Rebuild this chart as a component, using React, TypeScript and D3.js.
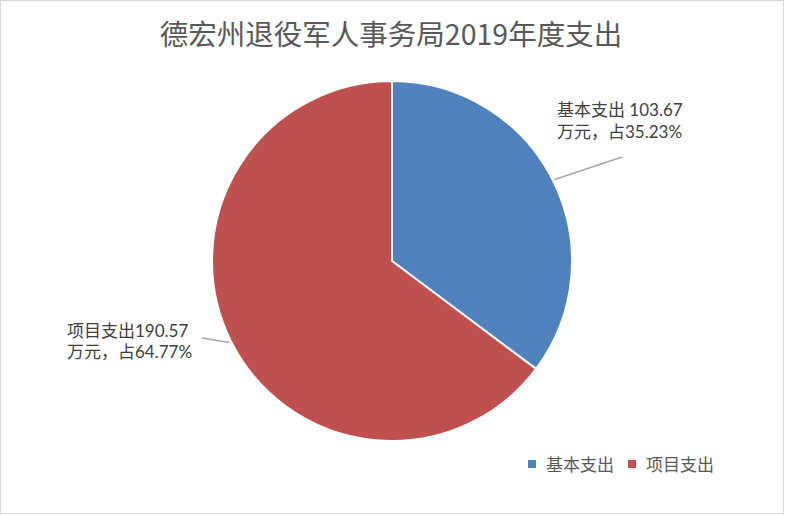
import React, { useEffect, useRef } from 'react';
import * as d3 from 'd3';

const categories = ['基本支出', '项目支出'];
const values = [103.67, 190.57];
const colors = ['#4F81BD', '#C0504D'];
const title = '德宏州退役军人事务局2019年度支出';

const W = 785;
const H = 515;
const cx = 392;
const cy = 261;
const radius = 180;
const font = '"Noto Sans CJK SC", "Noto Sans", sans-serif';
const labelFont = 'Lato, "Noto Sans CJK SC", sans-serif';

// label anchor + leader line end, per slice
const labelLayout = [
  { x: 557, y: 116, lineEnd: [622, 157], gap: 22 },
  { x: 67, y: 337, lineEnd: [202, 338], gap: 21 },
];

const App = () => {
  const svgRef = useRef(null);

  useEffect(() => {
    document.body.style.margin = '0';
    const svg = d3.select(svgRef.current);
    svg.selectAll('*').remove();

    svg.append('rect')
      .attr('x', 0.5).attr('y', 0.5)
      .attr('width', W - 2).attr('height', H - 2)
      .attr('fill', '#fff')
      .attr('stroke', '#d9d9d9');

    svg.append('text')
      .attr('x', 391).attr('y', 45)
      .attr('text-anchor', 'middle')
      .attr('font-family', font)
      .attr('font-size', 28.5)
      .attr('fill', '#595959')
      .text(title);

    const data = categories.map((c, i) => ({ name: c, value: values[i], color: colors[i] }));
    const total = d3.sum(values);
    const pct = d3.format('.2%');

    const pie = d3.pie().value(d => d.value).sort(null);
    const arcs = pie(data);
    const arc = d3.arc().innerRadius(0).outerRadius(radius);

    const g = svg.append('g').attr('transform', `translate(${cx},${cy})`);
    g.selectAll('path')
      .data(arcs)
      .enter()
      .append('path')
      .attr('d', arc)
      .attr('fill', d => d.data.color)
      .attr('stroke', '#fff')
      .attr('stroke-width', 2)
      .attr('stroke-linejoin', 'round');

    arcs.forEach((a, i) => {
      const mid = (a.startAngle + a.endAngle) / 2;
      const r0 = radius + 2;
      const sx = cx + r0 * Math.sin(mid);
      const sy = cy - r0 * Math.cos(mid);
      const lay = labelLayout[i];
      svg.append('line')
        .attr('x1', sx).attr('y1', sy)
        .attr('x2', lay.lineEnd[0]).attr('y2', lay.lineEnd[1])
        .attr('stroke', '#a6a6a6')
        .attr('stroke-width', 1.5);

      const line1 = i === 0 ? `${a.data.name} ${a.data.value}` : `${a.data.name}${a.data.value}`;
      const line2 = `万元，占${pct(a.data.value / total)}`;
      [line1, line2].forEach((s, k) => {
        svg.append('text')
          .attr('x', lay.x).attr('y', lay.y + k * lay.gap)
          .attr('font-family', labelFont)
          .attr('font-size', 17)
          .attr('fill', '#404040')
          .text(s);
      });
    });

    // legend
    const legend = svg.append('g');
    const legendX = [528, 628];
    data.forEach((d, i) => {
      legend.append('rect')
        .attr('x', legendX[i]).attr('y', 460)
        .attr('width', 8).attr('height', 8)
        .attr('fill', d.color);
      legend.append('text')
        .attr('x', legendX[i] + 18).attr('y', 471)
        .attr('font-family', font)
        .attr('font-size', 17)
        .attr('fill', '#595959')
        .text(d.name);
    });
  }, []);

  return (
    <svg
      ref={svgRef}
      width={W}
      height={H}
      style={{ position: 'absolute', left: 0, top: 0, display: 'block' }}
    />
  );
};

export default App;
